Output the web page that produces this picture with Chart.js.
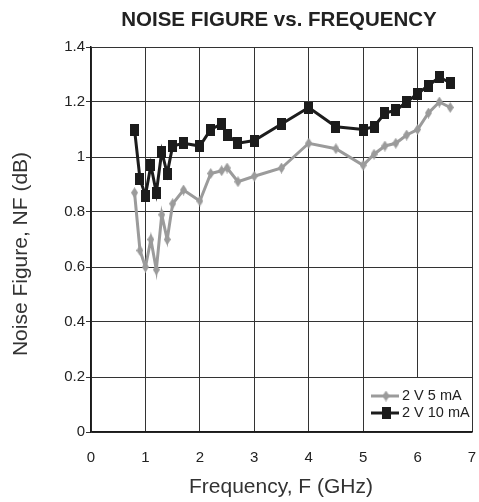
<!DOCTYPE html>
<html>
<head>
<meta charset="utf-8">
<script src="https://cdn.jsdelivr.net/npm/chart.js@4.4.0/dist/chart.umd.min.js"></script>
<style>
  html, body { margin: 0; padding: 0; background: #fff; }
</style>
</head>
<body>
<canvas id="nfChart" width="479" height="502"></canvas>
<script>
// frequency points (GHz), same for both curves
const freqGHz = [0.8, 0.9, 1.0, 1.1, 1.2, 1.3, 1.4, 1.5, 1.7, 2.0, 2.2, 2.4, 2.5, 2.7, 3.0,
                 3.5, 4.0, 4.5, 5.0, 5.2, 5.4, 5.6, 5.8, 6.0, 6.2, 6.4, 6.6];
// noise figure (dB)
const nf5mA  = [0.87, 0.66, 0.60, 0.70, 0.59, 0.79, 0.70, 0.83, 0.88, 0.84, 0.94, 0.95, 0.96, 0.91, 0.93,
                0.96, 1.05, 1.03, 0.97, 1.01, 1.04, 1.05, 1.08, 1.10, 1.16, 1.20, 1.18];
const nf10mA = [1.10, 0.92, 0.86, 0.97, 0.87, 1.02, 0.94, 1.04, 1.05, 1.04, 1.10, 1.12, 1.08, 1.05, 1.06,
                1.12, 1.18, 1.11, 1.10, 1.11, 1.16, 1.17, 1.20, 1.23, 1.26, 1.29, 1.27];
const seriesNames = ['2 V 5 mA', '2 V 10 mA'];
const xTicks = [0, 1, 2, 3, 4, 5, 6, 7];
const yTicks = [0, 0.2, 0.4, 0.6, 0.8, 1, 1.2, 1.4];

const FONT = "'Liberation Sans', Arial, Helvetica, sans-serif";
const GRAY = '#9b9b9b';
const BLACK = '#1c1c1c';

Chart.defaults.font.family = FONT;

function rectMarker(w, h, color) {
  const c = document.createElement('canvas');
  c.width = w; c.height = h;
  const g = c.getContext('2d');
  g.fillStyle = color;
  g.fillRect(0, 0, w, h);
  return c;
}
function diamondMarker(w, h, color) {
  const c = document.createElement('canvas');
  c.width = w; c.height = h;
  const g = c.getContext('2d');
  g.fillStyle = color;
  g.beginPath();
  g.moveTo(w / 2, 0);
  g.lineTo(w, h / 2);
  g.lineTo(w / 2, h);
  g.lineTo(0, h / 2);
  g.closePath();
  g.fill();
  return c;
}
const squareMark = rectMarker(9, 12, BLACK);
const diamondMark = diamondMarker(7, 11, GRAY);

function fmt(v) {
  return String(Number(v.toFixed(1)));
}

// titles + legend box drawn by hand
const decorations = {
  id: 'decorations',
  afterDatasetsDraw(chart) {
    const ctx = chart.ctx;
    const area = chart.chartArea;
    const xs = chart.scales.x, ys = chart.scales.y;
    ctx.save();

    // legend cell (x 5..7, y 0..0.2)
    const lx = xs.getPixelForValue(5), ly = ys.getPixelForValue(0.2);
    ctx.fillStyle = '#fff';
    ctx.fillRect(lx + 1, ly + 1, area.right - lx - 2, area.bottom - ly - 2);

    const rows = [
      { name: seriesNames[0], color: GRAY, mark: diamondMark, y: 396 },
      { name: seriesNames[1], color: BLACK, mark: squareMark, y: 413 }
    ];
    rows.forEach(r => {
      ctx.strokeStyle = r.color;
      ctx.lineWidth = 3;
      ctx.beginPath();
      ctx.moveTo(371, r.y);
      ctx.lineTo(399, r.y);
      ctx.stroke();
      ctx.drawImage(r.mark, 386 - r.mark.width / 2, r.y - r.mark.height / 2);
      ctx.fillStyle = '#222';
      ctx.font = '14.5px ' + FONT;
      ctx.textAlign = 'left';
      ctx.textBaseline = 'middle';
      ctx.fillText(r.name, 402, r.y);
    });

    // chart title
    ctx.fillStyle = '#222';
    ctx.font = 'bold 20.5px ' + FONT;
    ctx.textAlign = 'center';
    ctx.textBaseline = 'middle';
    ctx.fillText('NOISE FIGURE vs. FREQUENCY', 279, 20);

    // axis titles
    ctx.fillStyle = '#333';
    ctx.font = '21px ' + FONT;
    ctx.fillText('Frequency, F (GHz)', 281, 487);

    ctx.translate(21, 254);
    ctx.rotate(-Math.PI / 2);
    ctx.fillText('Noise Figure, NF (dB)', 0, 0);
    ctx.restore();
  }
};

const ctx = document.getElementById('nfChart').getContext('2d');
const nfChart = new Chart(ctx, {
  type: 'line',
  data: {
    datasets: [
      {
        label: seriesNames[0],
        data: freqGHz.map((f, i) => ({ x: f, y: nf5mA[i] })),
        borderColor: GRAY,
        backgroundColor: GRAY,
        borderWidth: 3,
        pointStyle: diamondMark,
        tension: 0
      },
      {
        label: seriesNames[1],
        data: freqGHz.map((f, i) => ({ x: f, y: nf10mA[i] })),
        borderColor: BLACK,
        backgroundColor: BLACK,
        borderWidth: 3,
        pointStyle: squareMark,
        tension: 0
      }
    ]
  },
  options: {
    responsive: false,
    animation: false,
    layout: { padding: { top: 47, right: 3, left: 0, bottom: 0 } },
    plugins: {
      legend: { display: false },
      title: { display: false },
      tooltip: { enabled: false }
    },
    scales: {
      x: {
        type: 'linear',
        min: 0,
        max: 7,
        afterBuildTicks: s => { s.ticks = xTicks.map(v => ({ value: v })); },
        afterFit: s => { s.height = 70; s.paddingLeft = 0; s.paddingRight = 0; },
        grid: { color: '#333', lineWidth: 1, drawTicks: false },
        border: { color: '#1a1a1a', width: 1.5 },
        ticks: { color: '#222', font: { size: 15 }, padding: 17, maxRotation: 0, callback: v => fmt(v) }
      },
      y: {
        min: 0,
        max: 1.4,
        afterBuildTicks: s => { s.ticks = yTicks.map(v => ({ value: v })); },
        afterFit: s => { s.width = 91; s.paddingTop = 0; s.paddingBottom = 0; },
        grid: { color: '#333', lineWidth: 1, tickLength: 5 },
        border: { color: '#1a1a1a', width: 1.5 },
        ticks: { color: '#222', font: { size: 15 }, padding: 1, callback: v => fmt(v) }
      }
    }
  },
  plugins: [decorations]
});
</script>
</body>
</html>
